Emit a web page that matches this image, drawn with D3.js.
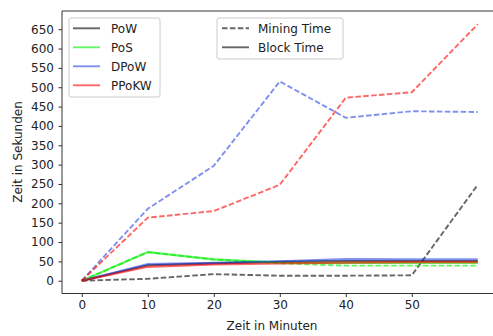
<!DOCTYPE html>
<html>
<head>
<meta charset="utf-8">
<script src="https://cdn.jsdelivr.net/npm/d3@7"></script>
<style>
  body { margin: 0; background: #fff; overflow: hidden; }
  svg { font-family: "DejaVu Sans", sans-serif; display: block; }
</style>
</head>
<body>
<svg id="chart" width="493" height="336"></svg>
<script>
// minutes on the x axis
const minutes = [0, 10, 20, 30, 40, 50, 60];
const xTicks = [0, 10, 20, 30, 40, 50];
const yTicks = d3.range(0, 651, 50);

// mining time (dashed) per protocol
const powMining = [0, 5, 17, 13, 13, 14, 248];
const posMining = [0, 74, 55, 45, 39, 39, 39];
const dpowMining = [0, 186, 297, 515, 421, 438, 436];
const ppokwMining = [0, 163, 180, 248, 473, 487, 663];

// block time (solid) per protocol
const powBlock = [0, 40, 45, 49, 51, 51, 51];
const posBlock = [0, 74, 55, 47, 46, 46, 46];
const dpowBlock = [0, 43, 46, 50, 56, 55, 55];
const ppokwBlock = [0, 36, 42, 45, 47, 48, 48];

const protocols = ["PoW", "PoS", "DPoW", "PPoKW"];
const colors = { PoW: "#000000", PoS: "#00ee00", DPoW: "#0022dd", PPoKW: "#ff0000" };
const alphas = { PoW: 0.6, PoS: 0.6, DPoW: 0.5, PPoKW: 0.6 };

const series = [
  { name: "PoW", kind: "mining", values: powMining },
  { name: "PoW", kind: "block", values: powBlock },
  { name: "PoS", kind: "block", values: posBlock },
  { name: "PoS", kind: "mining", values: posMining },
  { name: "DPoW", kind: "mining", values: dpowMining },
  { name: "DPoW", kind: "block", values: dpowBlock },
  { name: "PPoKW", kind: "mining", values: ppokwMining },
  { name: "PPoKW", kind: "block", values: ppokwBlock }
];

const svg = d3.select("#chart");
const mLeft = 62, mTop = 11, mBottom = 293.5, mRight = 497.6;

const x = d3.scaleLinear().domain([-3, 63]).range([mLeft, mRight]);
const y = d3.scaleLinear().domain([-33, 697]).range([mBottom, mTop]);

const plot = svg.append("g");

// spines: left, top and bottom only (the right one is cut off in the original)
plot.append("line")
  .attr("x1", mLeft).attr("x2", 493).attr("y1", mTop).attr("y2", mTop)
  .attr("stroke", "#333");
plot.append("line")
  .attr("x1", mLeft).attr("x2", 493).attr("y1", mBottom).attr("y2", mBottom)
  .attr("stroke", "#333");
plot.append("line")
  .attr("x1", mLeft).attr("x2", mLeft).attr("y1", mTop).attr("y2", mBottom)
  .attr("stroke", "#333");

// axes
const xAxis = svg.append("g")
  .attr("transform", `translate(0,${mBottom})`)
  .call(d3.axisBottom(x).tickValues(xTicks).tickSize(3.5).tickPadding(3.5));
const yAxis = svg.append("g")
  .attr("transform", `translate(${mLeft},0)`)
  .call(d3.axisLeft(y).tickValues(yTicks).tickSize(3.5).tickPadding(4.5));
[xAxis, yAxis].forEach(function (a) {
  a.select(".domain").remove();
  a.selectAll("line").attr("stroke", "#333");
  a.selectAll("text").attr("fill", "#222").attr("font-size", "12px")
    .attr("font-family", "DejaVu Sans, sans-serif");
});

// axis labels
svg.append("text")
  .attr("x", 272).attr("y", 330)
  .attr("text-anchor", "middle").attr("font-size", "12px").attr("fill", "#222")
  .text("Zeit in Minuten");
svg.append("text")
  .attr("transform", "translate(21.5,152) rotate(-90)")
  .attr("text-anchor", "middle").attr("font-size", "12px").attr("fill", "#222")
  .text("Zeit in Sekunden");

// lines
const line = d3.line()
  .x((d, i) => x(minutes[i]))
  .y(d => y(d));

plot.selectAll(".series")
  .data(series)
  .join("path")
  .attr("class", "series")
  .attr("d", d => line(d.values))
  .attr("fill", "none")
  .attr("stroke", d => colors[d.name])
  .attr("stroke-opacity", d => alphas[d.name])
  .attr("stroke-width", d => d.kind == "block" ? 2.2 : 1.9)
  .attr("stroke-dasharray", d => d.kind == "mining" ? "5.5,2.4" : null);

// legend for protocols
const leg1 = svg.append("g");
leg1.append("rect")
  .attr("x", 69).attr("y", 18).attr("width", 91).attr("height", 79)
  .attr("rx", 2).attr("fill", "#fff").attr("fill-opacity", 0.8)
  .attr("stroke", "#ccc");
protocols.forEach(function (p, i) {
  const yy = 28.3 + i * 19;
  leg1.append("line")
    .attr("x1", 73).attr("x2", 100).attr("y1", yy).attr("y2", yy)
    .attr("stroke", colors[p]).attr("stroke-opacity", alphas[p]).attr("stroke-width", 1.9);
  leg1.append("text")
    .attr("x", 111).attr("y", yy + 4.4)
    .attr("font-size", "12px").attr("fill", "#222")
    .text(p);
});

// legend for line styles
const leg2 = svg.append("g");
leg2.append("rect")
  .attr("x", 217).attr("y", 18).attr("width", 126).attr("height", 41)
  .attr("rx", 2).attr("fill", "#fff").attr("fill-opacity", 0.8)
  .attr("stroke", "#ccc");
[["Mining Time", "5.5,2.4"], ["Block Time", null]].forEach(function (s, i) {
  const yy = 28.3 + i * 19;
  leg2.append("line")
    .attr("x1", 222).attr("x2", 249).attr("y1", yy).attr("y2", yy)
    .attr("stroke", "#000").attr("stroke-opacity", 0.6).attr("stroke-width", 1.9)
    .attr("stroke-dasharray", s[1]);
  leg2.append("text")
    .attr("x", 258).attr("y", yy + 4.4)
    .attr("font-size", "12px").attr("fill", "#222")
    .text(s[0]);
});
</script>
</body>
</html>
